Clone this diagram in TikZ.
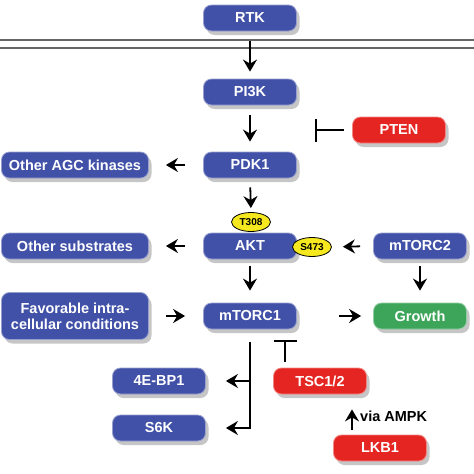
\documentclass[tikz,border=0pt]{standalone}
\usepackage{fontspec}
\setmainfont{Liberation Sans}
\usetikzlibrary{shapes,arrows.meta,positioning,shadows}

\definecolor{protblue}{RGB}{66,81,168}
\definecolor{protred}{RGB}{229,37,33}
\definecolor{protgreen}{RGB}{61,165,90}
\definecolor{siteyellow}{RGB}{246,232,30}

\begin{document}
\begin{tikzpicture}[x=1pt, y=-1pt,
    prot/.style={rectangle, rounded corners=8pt, fill=protblue, draw=protblue!55!white,
                 line width=0.8pt, minimum width=93pt, minimum height=26pt,
                 text=white, align=center, font=\fontsize{14.5}{16}\selectfont\bfseries,
                 drop shadow={shadow xshift=3pt, shadow yshift=-4pt, opacity=0.45}},
    wide/.style={prot, minimum width=147pt},
    negbox/.style={prot, fill=protred, draw=protred!55!white},
    posbox/.style={prot, fill=protgreen, draw=protgreen!55!white},
    site/.style={ellipse, draw=black, line width=0.8pt, fill=siteyellow,
                 minimum width=39pt, minimum height=19pt, inner sep=0pt,
                 font=\fontsize{10}{11}\selectfont\bfseries},
    act/.style={-{Stealth[length=12pt, width=14pt, inset=4pt]}, line width=1.8pt},
    inh/.style={-{Bar[width=23pt]}, line width=1.8pt},
    note/.style={font=\fontsize{14.5}{16}\selectfont\bfseries}
]
\useasboundingbox (0,0) rectangle (474,474);

% Membrane
\draw[gray!80!black, line width=1.2pt] (0,40) -- (474,40);
\draw[gray!80!black, line width=1.2pt] (0,48) -- (474,48);

% Central column
\node[prot] (rtk)    at (250,18)  {RTK};
\node[prot] (pi3k)   at (250,92)  {PI3K};
\node[prot] (pdk1)   at (250,165) {PDK1};
\node[prot] (akt)    at (250,246) {AKT};
\node[prot] (mtorc1) at (250,316) {mTORC1};

% Side boxes
\node[negbox] (pten)   at (399,130) {PTEN};
\node[wide]   (agc)    at (75,165)  {Other AGC kinases};
\node[wide]   (subs)   at (75,246)  {Other substrates};
\node[prot]   (mtorc2) at (420,246) {mTORC2};
\node[wide, minimum height=47pt] (cond) at (75,316) {Favorable intra-\\cellular conditions};
\node[posbox] (growth) at (420,316) {Growth};
\node[prot]   (ebp)    at (159,381) {4E-BP1};
\node[prot]   (sixk)   at (159,428) {S6K};
\node[negbox] (tsc)    at (320,381) {TSC1/2};
\node[negbox] (lkb1)   at (380,448) {LKB1};

% Phosphorylation sites
\node[site] (t308) at (251,222) {T308};
\node[site] (s473) at (312,247) {S473};

% Activations
\draw[act, shorten <=10pt, shorten >=7pt]  (rtk.south) -- (pi3k.north);
\draw[act, shorten <=10pt, shorten >=10pt] (pi3k.south) -- (pdk1.north);
\draw[act, shorten <=9pt, shorten >=4pt]   (pdk1.south) -- (t308.north);
\draw[act, shorten <=18pt, shorten >=17pt] (pdk1.west) -- (agc.east);
\draw[act, shorten <=18pt, shorten >=17pt] (akt.west) -- (subs.east);
\draw[act, shorten <=13pt, shorten >=11pt] (mtorc2.west) -- (s473.east);
\draw[act, shorten <=7pt, shorten >=12pt]  (akt.south) -- (mtorc1.north);
\draw[act, shorten <=7pt, shorten >=12pt]  (mtorc2.south) -- (growth.north);
\draw[act, shorten <=17pt, shorten >=18pt] (cond.east) -- (mtorc1.west);
\draw[act, shorten <=42pt, shorten >=12pt] (mtorc1.east) -- (growth.west);

% mTORC1 targets
\coordinate (fork) at ([yshift=-13pt]mtorc1.south);
\draw[act] (fork) |- ([xshift=20pt]sixk.east);
\draw[act] (fork |- ebp.east) -- ([xshift=20pt]ebp.east);

% Inhibitions
\coordinate (ptenhit) at (315,130);
\draw[inh, shorten <=8pt] (pten.west) -- (ptenhit);
\draw[inh, shorten <=6pt, shorten >=11pt] ([xshift=-35pt]tsc.north) -- ([xshift=-35pt]tsc.north |- mtorc1.south);

% LKB1 via AMPK
\draw[act, shorten <=5pt, shorten >=15pt] ([xshift=-28pt]lkb1.north) -- ([xshift=-28pt]lkb1.north |- tsc.south)
    node[note, pos=0.45, right=4pt] {via AMPK};

\end{tikzpicture}
\end{document}
